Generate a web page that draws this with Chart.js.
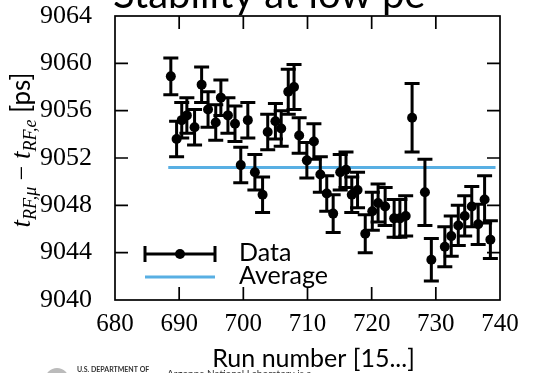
<!DOCTYPE html>
<html>
<head>
<meta charset="utf-8">
<script src="https://cdn.jsdelivr.net/npm/chart.js@4.4.0/dist/chart.umd.min.js"></script>
<style>
html,body{margin:0;padding:0;background:#fff;}
#wrap{width:533px;height:373px;position:relative;}
</style>
</head>
<body>
<div id="wrap"><canvas id="c" width="533" height="373"></canvas></div>
<script>
// ---- data ----
const runs = [688.7, 689.6, 690.4, 691.2, 692.4, 693.5, 694.5, 695.7, 696.5, 697.6,
              698.7, 699.6, 700.7, 701.8, 703.0, 703.8, 705.0, 705.9, 707.0, 707.9,
              708.7, 709.9, 711.0, 712.0, 713.0, 714.0, 715.1, 716.0, 716.9, 717.8,
              719.0, 720.1, 721.0, 722.1, 723.5, 724.4, 725.3, 726.3, 728.3, 729.3,
              731.4, 732.4, 733.5, 734.5, 735.6, 736.6, 737.6, 738.5];
const values = [9058.9, 9053.6, 9055.2, 9055.6, 9054.6, 9058.2, 9056.1, 9055.0, 9057.1, 9055.6,
                9054.9, 9051.4, 9055.2, 9050.8, 9048.9, 9054.2, 9055.1, 9054.5, 9057.6, 9058.0,
                9053.9, 9051.8, 9053.4, 9050.6, 9049.0, 9047.3, 9050.8, 9051.0, 9048.9, 9049.3,
                9045.6, 9047.5, 9048.2, 9047.9, 9046.9, 9046.9, 9047.1, 9055.4, 9049.1, 9043.4,
                9044.5, 9045.4, 9046.3, 9047.1, 9047.9, 9046.4, 9048.5, 9045.1];
const errors = [1.55, 1.5, 1.5, 1.5, 1.5, 1.5, 1.5, 1.5, 1.5, 1.5,
                1.5, 1.5, 1.5, 1.5, 1.5, 1.5, 1.5, 1.5, 1.9, 1.9,
                1.5, 1.5, 1.5, 1.5, 1.5, 1.6, 1.5, 1.5, 1.5, 1.5,
                1.6, 1.6, 1.6, 1.6, 1.6, 1.6, 1.7, 2.9, 2.8, 1.8,
                1.7, 1.7, 1.7, 1.7, 1.7, 1.7, 2.0, 1.6];
const avgRuns = [688.3, 739.3];
const avgValue = 9051.2;
const xTicks = [680, 690, 700, 710, 720, 730, 740];
const yTicks = [9040, 9044, 9048, 9052, 9056, 9060, 9064];
const seriesNames = ['Data', 'Average'];
const titleText = 'Stability at low pe';
const xTitle = 'Run number [15...]';

const SERIF = '"Liberation Serif", "DejaVu Serif", serif';
const SANS = 'Lato, "Open Sans", sans-serif';
const BLUE = '#58AFE3';

const decor = {
  id: 'decor',
  beforeDatasetDraw(chart, args) {
    if (args.index !== 0) return;
    const ctx = chart.ctx, xs = chart.scales.x, ys = chart.scales.y;
    ctx.save();
    ctx.strokeStyle = '#000';
    ctx.lineWidth = 3;
    ctx.lineCap = 'butt';
    runs.forEach((r, i) => {
      const px = xs.getPixelForValue(r);
      const y1 = ys.getPixelForValue(values[i] + errors[i]);
      const y2 = ys.getPixelForValue(values[i] - errors[i]);
      ctx.beginPath();
      ctx.moveTo(px, y1); ctx.lineTo(px, y2);
      ctx.moveTo(px - 7.5, y1); ctx.lineTo(px + 7.5, y1);
      ctx.moveTo(px - 7.5, y2); ctx.lineTo(px + 7.5, y2);
      ctx.stroke();
    });
    ctx.restore();
  },
  afterDraw(chart) {
    const ctx = chart.ctx, a = chart.chartArea, xs = chart.scales.x, ys = chart.scales.y;
    ctx.save();
    // frame
    ctx.strokeStyle = '#000';
    ctx.lineWidth = 1.7;
    ctx.strokeRect(a.left, a.top, a.right - a.left, a.bottom - a.top);
    // inward ticks
    ctx.beginPath();
    xTicks.slice(1, -1).forEach(v => {
      const px = xs.getPixelForValue(v);
      ctx.moveTo(px, a.bottom); ctx.lineTo(px, a.bottom - 13);
      ctx.moveTo(px, a.top); ctx.lineTo(px, a.top + 13);
    });
    yTicks.slice(1, -1).forEach(v => {
      const py = ys.getPixelForValue(v);
      ctx.moveTo(a.left, py); ctx.lineTo(a.left + 13, py);
      ctx.moveTo(a.right, py); ctx.lineTo(a.right - 13, py);
    });
    ctx.stroke();

    // legend
    ctx.lineWidth = 3;
    ctx.beginPath();
    ctx.moveTo(145, 254); ctx.lineTo(215, 254);
    ctx.moveTo(145, 246); ctx.lineTo(145, 262);
    ctx.moveTo(215, 246); ctx.lineTo(215, 262);
    ctx.stroke();
    ctx.fillStyle = '#000';
    ctx.beginPath(); ctx.arc(180, 254, 5, 0, Math.PI * 2); ctx.fill();
    ctx.strokeStyle = BLUE; ctx.lineWidth = 3;
    ctx.beginPath(); ctx.moveTo(145, 277); ctx.lineTo(215, 277); ctx.stroke();
    ctx.fillStyle = '#000';
    ctx.font = '25px ' + SANS;
    ctx.textAlign = 'left'; ctx.textBaseline = 'alphabetic';
    ctx.fillText(seriesNames[0], 239, 261);
    ctx.fillText(seriesNames[1], 239, 284);

    // title (cropped at top)
    ctx.font = '40px ' + SANS;
    ctx.fillText(titleText, 113, 8);

    // x title
    ctx.font = '25px ' + SANS;
    ctx.textAlign = 'center';
    ctx.fillText(xTitle, (a.left + a.right) / 2 + 6, 367);

    // y title rotated with subscripts
    const segs = [
      { t: 't', f: 'italic 27px ' + SERIF, dy: 0 },
      { t: 'RF,μ', f: 'italic 18px ' + SERIF, dy: 6 },
      { t: ' − ', f: '26px ' + SERIF, dy: 0 },
      { t: 't', f: 'italic 27px ' + SERIF, dy: 0 },
      { t: 'RF,e', f: 'italic 18px ' + SERIF, dy: 6 },
      { t: ' [ps]', f: '26px ' + SANS, dy: 0 }
    ];
    let total = 0;
    segs.forEach(s => { ctx.font = s.f; s.w = ctx.measureText(s.t).width; total += s.w; });
    ctx.translate(30, 150);
    ctx.rotate(-Math.PI / 2);
    ctx.textAlign = 'left';
    let pos = -total / 2;
    segs.forEach(s => { ctx.font = s.f; ctx.fillText(s.t, pos, s.dy); pos += s.w; });
    ctx.restore();

    // footer (cropped)
    ctx.save();
    ctx.fillStyle = '#bbb';
    ctx.beginPath(); ctx.arc(57, 380, 12, 0, Math.PI * 2); ctx.fill();
    ctx.fillStyle = '#333';
    ctx.font = 'bold 7px ' + SANS;
    ctx.textAlign = 'left';
    ctx.fillText('U.S. DEPARTMENT OF', 77, 372);
    ctx.font = '10px ' + SANS;
    ctx.fillText('Argonne National Laboratory is a', 167, 377);
    ctx.restore();
  }
};

new Chart(document.getElementById('c'), {
  type: 'scatter',
  data: {
    datasets: [
      {
        label: seriesNames[0],
        data: runs.map((r, i) => ({ x: r, y: values[i] })),
        backgroundColor: '#000', borderColor: '#000',
        pointRadius: 5, pointBorderWidth: 0, order: 1
      },
      {
        label: seriesNames[1], type: 'line',
        data: avgRuns.map(r => ({ x: r, y: avgValue })),
        borderColor: BLUE, borderWidth: 3, pointRadius: 0, order: 2, fill: false
      }
    ]
  },
  options: {
    responsive: false, animation: false, devicePixelRatio: 1,
    layout: { padding: { left: 0, top: 16, right: 33, bottom: 0 } },
    plugins: { legend: { display: false }, tooltip: { enabled: false } },
    scales: {
      x: {
        type: 'linear', min: 680, max: 740,
        afterBuildTicks: s => { s.ticks = xTicks.map(v => ({ value: v })); },
        afterFit: s => { s.height = 73; s.paddingLeft = 0; s.paddingRight = 0; },
        grid: { display: false, drawTicks: false }, border: { display: false },
        ticks: { font: { family: SERIF, size: 25 }, color: '#000', padding: 9, maxRotation: 0, autoSkip: false, callback: v => String(v) }
      },
      y: {
        type: 'linear', min: 9040, max: 9064,
        afterBuildTicks: s => { s.ticks = yTicks.map(v => ({ value: v })); },
        afterFit: s => { s.width = 115; s.paddingTop = 0; s.paddingBottom = 0; },
        grid: { display: false, drawTicks: false }, border: { display: false },
        ticks: { font: { family: SERIF, size: 26 }, color: '#000', padding: 23, autoSkip: false, callback: v => String(v) }
      }
    }
  },
  plugins: [decor]
});
</script>
</body>
</html>
